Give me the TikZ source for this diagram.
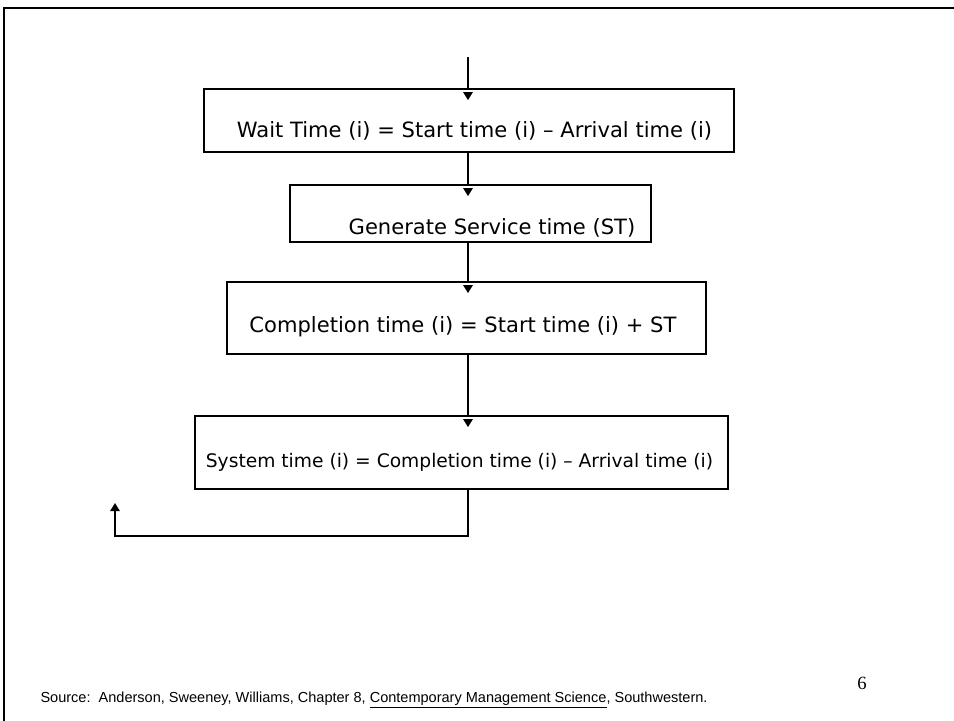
\documentclass[tikz,border=0pt]{standalone}
\usepackage{fontspec}
\usepackage{tikz}
\usetikzlibrary{arrows.meta,calc}
\newfontfamily\boxfont{DejaVu Sans}
\newfontfamily\srcfont{Liberation Sans}
\newfontfamily\numfont{Liberation Serif}
\tikzset{
  stepbox/.style={draw, line width=1.3pt, inner sep=0pt},
  boxtext/.style={font=\boxfont\fontsize{15.8}{18}\selectfont, inner sep=0pt},
  flow/.style={line width=1.3pt},
  head/.style={-{Triangle[length=6pt,width=7pt]}},
  >=Stealth
}

\begin{document}
\begin{tikzpicture}[x=0.75pt, y=-0.75pt]
  \useasboundingbox (0,0) rectangle (954,721);
  % slide frame
  \draw[line width=2.2pt] (4,721) -- (4,8) -- (954,8);
  % entry point
  \coordinate (in) at (468,57);
  % Wait time box
  \node[stepbox, minimum width=397.5pt, minimum height=47.25pt] (wait) at (469,120.5) {};
  \node[boxtext] (waitT) at (474.5,131) {Wait Time (i) = Start time (i) – Arrival time (i)};
  % Service time box
  \node[stepbox, minimum width=270.75pt, minimum height=42.75pt] (serv) at (470.5,213.5) {};
  \node[boxtext] (servT) at (492,228) {Generate Service time (ST)};
  % Completion box
  \node[stepbox, minimum width=359.25pt, minimum height=54pt] (comp) at (466.5,318) {};
  \node[boxtext] (compT) at (463,327) {Completion time (i) = Start time (i) + ST};
  % System time box
  \node[stepbox, minimum width=399.75pt, minimum height=54.75pt] (sys) at (461.5,452.5) {};
  \node[boxtext, font=\boxfont\fontsize{14}{16}\selectfont] (sysT) at (459.5,462) {System time (i) = Completion time (i) – Arrival time (i)};
  % connectors
  \draw[flow] (in) -- (wait.north -| in);
  \draw[flow] (wait.south -| in) -- (serv.north -| in);
  \draw[flow] (serv.south -| in) -- (comp.north -| in);
  \draw[flow] (comp.south -| in) -- (sys.north -| in);
  \coordinate (loop) at (115,503);
  \draw[flow, head] (sys.south -| in) -- (in |- 0,536) -- (loop |- 0,536) -- (loop);
  % arrow heads inside boxes
  \foreach \b in {wait,serv,comp,sys}
    \draw[flow, head] ($(\b.north -| in)+(0,4)$) -- ++(0,8);
  % source line and page number
  \node[font=\srcfont\fontsize{10.9}{13}\selectfont, inner sep=0pt] (src) at (374,700)
    {Source:\ \ Anderson, Sweeney, Williams, Chapter 8, \underline{Contemporary Management Science}, Southwestern.};
  \node[font=\numfont\fontsize{14}{16}\selectfont, inner sep=0pt] (page) at (862,683) {6};
\end{tikzpicture}
\end{document}
